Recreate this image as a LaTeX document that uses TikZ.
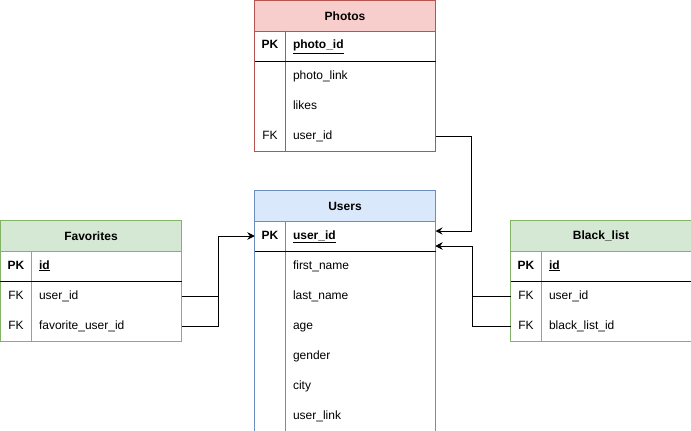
\documentclass[tikz,border=0pt]{standalone}
\usepackage{fontspec}
\setmainfont{Liberation Sans}
\usetikzlibrary{arrows.meta}
\definecolor{redline}{HTML}{B85450}
\definecolor{redfill}{HTML}{F8CECC}
\definecolor{blueline}{HTML}{6C8EBF}
\definecolor{bluefill}{HTML}{DAE8FC}
\definecolor{greenline}{HTML}{82B366}
\definecolor{greenfill}{HTML}{D5E8D4}

\begin{document}
\begin{tikzpicture}[x=1pt,y=-1pt,line width=1pt,
    font=\fontsize{12}{14}\selectfont,
    tablehead/.style={anchor=north west,minimum width=180pt,minimum height=30pt,inner sep=0pt,
      font=\fontsize{12}{14}\selectfont\bfseries},
    keycell/.style={anchor=north west,minimum width=30pt,minimum height=30pt,inner sep=0pt,
      text height=9pt,text depth=3pt},
    fieldcell/.style={anchor=north west,minimum height=30pt,text width=134pt,inner xsep=8pt,
      inner ysep=0pt,align=left,text height=9pt,text depth=3pt},
    link/.style={draw=black,-{Stealth[length=7pt,width=7pt,inset=2.5pt]}}]
    \useasboundingbox (-0.5,-0.5) rectangle (690.5,430.5);

    % Photos
    \node[tablehead,fill=redfill] (photos) at (254,0) {Photos};
    \node[keycell] (photos-pk) at (254,30) {\textbf{PK}};
    \node[fieldcell] (photos-id) at (284,30) {\textbf{\underline{photo\_id}}};
    \node[fieldcell] (photos-link) at (284,60) {photo\_link};
    \node[fieldcell] (photos-likes) at (284,90) {likes};
    \node[keycell] (photos-fk) at (254,120) {FK};
    \node[fieldcell] (photos-uid) at (284,120) {user\_id};
    \draw[redline] (photos.north west) rectangle (photos-uid.south east);
    \draw[redline] (photos.south west) -- (photos.south east);
    \draw[redline] (photos-pk.north east) -- (photos-fk.south east);
    \draw (photos-pk.south west) -- (photos-id.south east);

    % Users
    \node[tablehead,fill=bluefill] (users) at (254,190) {Users};
    \node[keycell] (users-pk) at (254,220) {\textbf{PK}};
    \node[fieldcell] (users-id) at (284,220) {\textbf{\underline{user\_id}}};
    \node[fieldcell] (users-first) at (284,250) {first\_name};
    \node[fieldcell] (users-last) at (284,280) {last\_name};
    \node[fieldcell] (users-age) at (284,310) {age};
    \node[fieldcell] (users-gender) at (284,340) {gender};
    \node[fieldcell] (users-city) at (284,370) {city};
    \node[fieldcell] (users-link) at (284,400) {user\_link};
    \draw[blueline] (users.north west) rectangle (users-link.south east);
    \draw[blueline] (users.south west) -- (users.south east);
    \draw[blueline] (users-pk.north east) -- (users-pk.east |- users-link.south);
    \draw (users-pk.south west) -- (users-id.south east);

    % Favorites
    \node[tablehead,fill=greenfill] (fav) at (0,220) {Favorites};
    \node[keycell] (fav-pk) at (0,250) {\textbf{PK}};
    \node[fieldcell] (fav-id) at (30,250) {\textbf{\underline{id}}};
    \node[keycell] (fav-fk1) at (0,280) {FK};
    \node[fieldcell] (fav-uid) at (30,280) {user\_id};
    \node[keycell] (fav-fk2) at (0,310) {FK};
    \node[fieldcell] (fav-fuid) at (30,310) {favorite\_user\_id};
    \draw[greenline] (fav.north west) rectangle (fav-fuid.south east);
    \draw[greenline] (fav.south west) -- (fav.south east);
    \draw[greenline] (fav-pk.north east) -- (fav-fk2.south east);
    \draw (fav-pk.south west) -- (fav-id.south east);

    % Black_list
    \node[tablehead,fill=greenfill] (black) at (510,220) {Black\_list};
    \node[keycell] (black-pk) at (510,250) {\textbf{PK}};
    \node[fieldcell] (black-id) at (540,250) {\textbf{\underline{id}}};
    \node[keycell] (black-fk1) at (510,280) {FK};
    \node[fieldcell] (black-uid) at (540,280) {user\_id};
    \node[keycell] (black-fk2) at (510,310) {FK};
    \node[fieldcell] (black-blid) at (540,310) {black\_list\_id};
    \draw[greenline] (black.north west) rectangle (black-blid.south east);
    \draw[greenline] (black.south west) -- (black.south east);
    \draw[greenline] (black-pk.north east) -- (black-fk2.south east);
    \draw (black-pk.south west) -- (black-id.south east);

    % links to Users
    \draw[link] (photos-uid.east) -- ++(36,0) |- ([yshift=5pt]users-id.east);
    \draw[link] (fav-uid.east) -- ++(37,0) |- (users-pk.west);
    \draw[link] (fav-fuid.east) -- ++(37,0) |- (users-pk.west);
    \draw[link] (black-fk1.west) -- ++(-38,0) |- ([yshift=-10pt]users-id.east);
    \draw[link] (black-fk2.west) -- ++(-38,0) |- ([yshift=-10pt]users-id.east);
\end{tikzpicture}
\end{document}
